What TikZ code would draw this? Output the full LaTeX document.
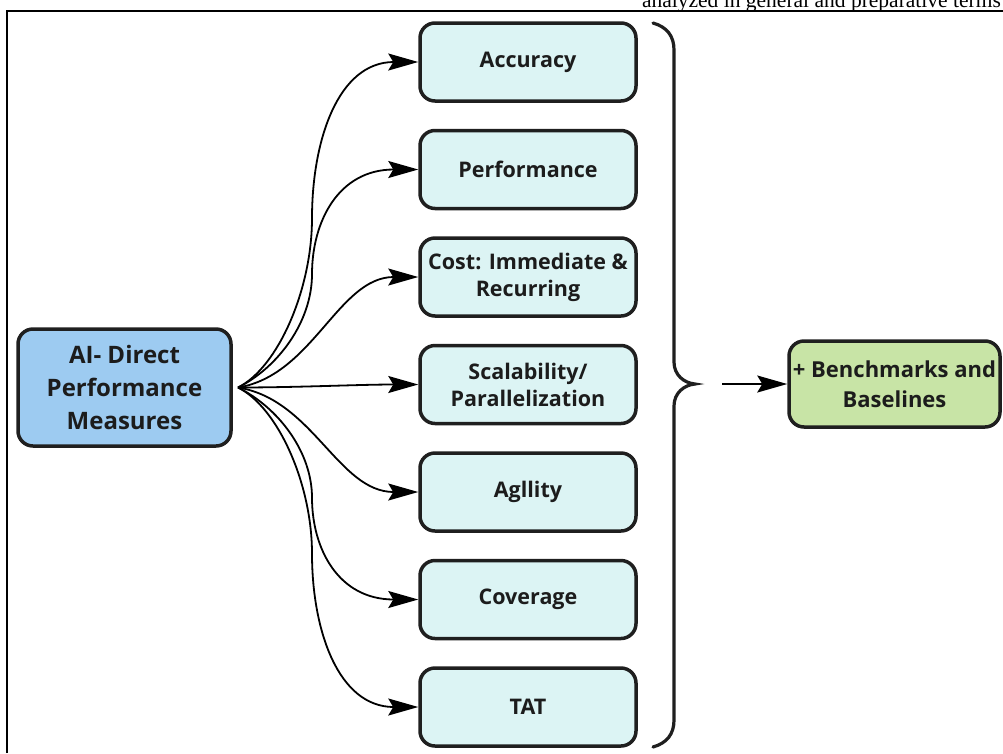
\documentclass[tikz,border=0pt]{standalone}
\usepackage{fontspec}
\setmainfont{Liberation Serif}
\newfontfamily\boxfont{Open Sans}
\usetikzlibrary{arrows.meta}

\definecolor{edge}{HTML}{1F1F1F}
\definecolor{ink}{HTML}{1C1C1C}
\definecolor{bluefill}{HTML}{9DCBF1}
\definecolor{cyanfill}{HTML}{DCF4F4}
\definecolor{greenfill}{HTML}{C8E4A6}

\begin{document}
\begin{tikzpicture}[x=1pt,y=-1pt,
  box/.style={draw=edge, line width=3.5pt, rounded corners=15pt, align=center,
    text=ink, inner sep=0pt},
  measure/.style={box, fill=cyanfill, minimum width=216pt, minimum height=78pt,
    font=\boxfont\bfseries\fontsize{21.5}{27}\selectfont},
  link/.style={line width=1.8pt, draw=black,
    -{Stealth[length=30pt,width=17pt,inset=5pt]}}
]
\useasboundingbox (0,0) rectangle (1003,753);

% running text above the frame
\node[anchor=base east, inner sep=0pt, font=\fontsize{21.5}{26}\selectfont]
  (runhead) at (1001,7) {analyzed in general and preparative terms};

% frame lines
\draw[line width=2.5pt] (7,753) -- (7,11) -- (1003,11);

% source node
\node[box, fill=bluefill, minimum width=213pt, minimum height=117pt,
  font=\boxfont\bfseries\fontsize{24}{33}\selectfont]
  (src) at (124.5,387.5) {AI- Direct\\Performance\\Measures};

% measure nodes
\node[measure] (acc)  at (528,62)    {Accuracy};
\node[measure] (perf) at (528,169.5) {Performance};
\node[measure] (cost) at (528,277)   {Cost: Immediate \&\\Recurring};
\node[measure] (scal) at (528,384.5) {Scalability/\\Parallelization};
\node[measure] (agil) at (528,492)   {Agllity};
\node[measure] (cov)  at (528,599.5) {Coverage};
\node[measure] (tat)  at (528,707)   {TAT};

% target node
\node[box, fill=greenfill, minimum width=211pt, minimum height=86pt,
  font=\boxfont\bfseries\fontsize{22}{30}\selectfont]
  (bench) at (894.5,384) {+ Benchmarks and\\Baselines};

% fan of connectors: the far ones rise along x=312, then turn into their box
\coordinate (fan) at (238,387.5);
\foreach \t/\yt in {acc/62,perf/169.5,cov/599.5,tat/707}{
  \pgfmathsetmacro\by{387.5+0.52*(\yt-387.5)}
  \pgfmathsetmacro\pa{\by-0.42*(\by-387.5)}
  \pgfmathsetmacro\pb{\by+0.5*(\yt-\by)}
  \pgfmathsetmacro\sy{\yt<387.5 ? -20 : 20}
  \draw[link] (fan) .. controls +(40,\sy) and (312,\pa) .. (312,\by)
    .. controls (312,\pb) and +(-80,0) .. (\t.west);
}
% the near ones are plain S-curves
\draw[link] (fan) .. controls +(75,-12) and +(-80,0) .. (cost.west);
\draw[link] (fan) .. controls +(75,12) and +(-80,0) .. (agil.west);
\draw[link] (fan) .. controls +(60,0) and +(-60,0) .. (scal.west);

% brace collecting the measures
\draw[line width=3.2pt, line cap=round, draw=edge]
  (653,23) .. controls (667,27) and (674,36) .. (674,50)
  -- (674,362) .. controls (674,375) and (684,383) .. (695,384)
  .. controls (684,385) and (674,393) .. (674,406)
  -- (674,720) .. controls (674,734) and (667,743) .. (653,747);

\coordinate (bracetip) at (722,384);
\draw[link] (bracetip) -- (bench.west);
\end{tikzpicture}
\end{document}
